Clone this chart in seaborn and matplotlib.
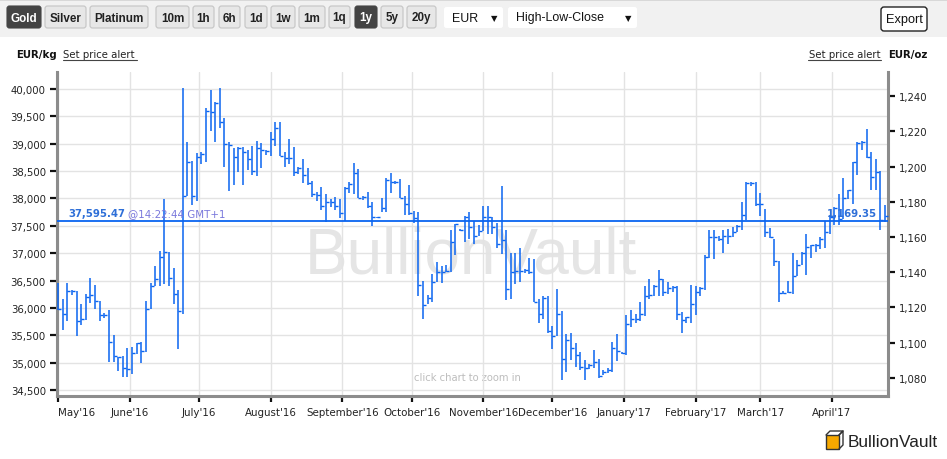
import numpy as np
import pandas as pd
import matplotlib
matplotlib.use("Agg")
import matplotlib.pyplot as plt
from matplotlib.patches import FancyBboxPatch, Rectangle
from matplotlib.ticker import FuncFormatter
import seaborn as sns

# --- data: 2-day high/low/close bars, EUR per kg ---
start_date = "2016-05-01"
high = [36456, 36166, 36456, 36330, 36311, 36076, 36257, 36547, 36420, 36130,
        35913, 35955, 35502, 35110, 35122, 35261, 35279, 35363, 35369, 36118,
        36456, 36758, 37042, 37993, 37012, 36728, 36330, 40012, 39027, 38692,
        38832, 38844, 39647, 39982, 39769, 40012, 39465, 39027, 38923, 38935,
        38948, 38887, 38966, 39045, 39009, 38887, 39209, 39392, 39392, 38856,
        39088, 38935, 38571, 38723, 38552, 38315, 38114, 38210, 38089, 37998,
        38028, 37986, 38210, 38301, 38653, 38544, 38046, 38119, 37937, 37664,
        38010, 38380, 38471, 38313, 38362, 38046, 38253, 37773, 37755, 36492,
        36237, 36620, 36833, 36772, 36784, 37421, 37530, 37439, 37676, 37743,
        37585, 37512, 37864, 37858, 37664, 37543, 38222, 37421, 36996, 36996,
        37087, 36705, 36906, 36893, 36164, 36213, 36213, 35678, 36346, 35939,
        35525, 35537, 35361, 35191, 35039, 34978, 35222, 35070, 34857, 34899,
        35374, 35525, 35203, 35872, 35963, 35890, 36103, 36395, 36529, 36419,
        36699, 36529, 36468, 36395, 36407, 35933, 35842, 36419, 36407, 36377,
        36966, 37422, 37422, 37319, 37422, 37441, 37471, 37520, 37939, 38304,
        38292, 38292, 38097, 37805, 37453, 37258, 36863, 36316, 36486, 37003,
        36881, 37012, 37358, 37146, 37176, 37298, 37583, 37693, 37845, 38088,
        38374, 38161, 38666, 39030, 39043, 39274, 38848, 38726, 38495, 37887]
low = [35967, 35593, 35756, 36227, 35484, 35683, 35774, 36094, 35973, 35756,
       35822, 35019, 35019, 34850, 34735, 34735, 34795, 35158, 34989, 35188,
       35973, 36396, 36408, 36438, 36408, 36064, 35248, 35882, 38040, 37871,
       37962, 38631, 38662, 39240, 39027, 39282, 38583, 38133, 38254, 38479,
       38248, 38528, 38431, 38418, 38558, 38796, 38783, 38966, 38771, 38571,
       38631, 38418, 38449, 38279, 38248, 38023, 37944, 37785, 37573, 37846,
       37785, 37634, 37591, 38107, 38089, 38016, 37967, 37834, 37500, 37634,
       37755, 37755, 38107, 38271, 38016, 37694, 37694, 37555, 36225, 35800,
       36073, 36116, 36468, 36450, 36650, 36662, 36966, 37409, 37197, 37257,
       37166, 37312, 37403, 37342, 37342, 37087, 36981, 36146, 36164, 36431,
       36480, 36644, 36620, 36103, 35726, 35800, 35544, 35240, 35495, 34674,
       34826, 35039, 34917, 34857, 34674, 34887, 34905, 34717, 34765, 34814,
       34826, 35021, 35161, 35148, 35647, 35720, 35769, 35860, 36164, 36225,
       36225, 36213, 36255, 36298, 35787, 35538, 35726, 35726, 35872, 36213,
       36334, 36906, 36893, 37228, 37003, 37167, 37289, 37380, 37428, 37611,
       38219, 37866, 37684, 37289, 37270, 36760, 36115, 36255, 36267, 36255,
       36590, 36781, 36598, 36915, 37024, 37085, 37097, 37358, 37510, 37510,
       37632, 37997, 37906, 38422, 38878, 38739, 38149, 38149, 37419, 37571]
close = [35973, 35889, 36317, 36317, 35762, 35804, 36197, 36233, 36118, 35870,
         35870, 35381, 35122, 35097, 34898, 34880, 35182, 35351, 35218, 35985,
         36396, 36529, 36921, 37012, 36547, 36257, 35943, 38041, 38674, 38050,
         38753, 38814, 39592, 39574, 39745, 39392, 38996, 38984, 38753, 38923,
         38844, 38723, 38504, 38917, 38893, 38862, 39088, 39288, 38771, 38741,
         38741, 38479, 38558, 38437, 38279, 38084, 38066, 37864, 37937, 37937,
         37858, 37737, 38192, 38271, 38471, 38016, 38028, 37864, 37652, 37652,
         37816, 38332, 38301, 38301, 38016, 37907, 37725, 37634, 36420, 36055,
         36189, 36480, 36650, 36662, 36674, 37209, 37524, 37421, 37664, 37482,
         37318, 37403, 37664, 37664, 37482, 37166, 37239, 36346, 36662, 36674,
         36680, 36692, 36650, 36103, 35890, 36176, 35574, 35495, 35890, 35070,
         35422, 35264, 35130, 34917, 34905, 34948, 35009, 34747, 34826, 34857,
         35270, 35209, 35179, 35708, 35799, 35799, 35890, 36212, 36237, 36407,
         36529, 36286, 36358, 36377, 35890, 35787, 35830, 36073, 36286, 36365,
         36924, 37289, 37301, 37258, 37319, 37319, 37380, 37501, 37696, 38280,
         38274, 37897, 37897, 37380, 37289, 36863, 36267, 36267, 36286, 36590,
         36784, 36994, 37115, 37146, 37158, 37267, 37389, 37662, 37827, 37632,
         38009, 38149, 38666, 39018, 39030, 38757, 38392, 38483, 37602, 37681]
last_price = 37595.47
last_price_oz = 1169.35
last_time = "@14:22:44 GMT+1"
kg_per_oz = 32.1507

dates = pd.date_range(start_date, periods=len(close), freq="2D")
df = pd.DataFrame({"date": dates, "high": high, "low": low, "close": close})

left_ticks = np.arange(34500, 40001, 500)
right_ticks = np.arange(1080, 1241, 20)
month_ticks = pd.date_range("2016-05-01", "2017-04-01", freq="MS")
month_labels = [d.strftime("%B'%y") for d in month_ticks]

W, H = 947, 460
BLUE = "#0a64f0"

sns.set_style("white")
plt.rcParams["font.family"] = ["DejaVu Sans"]

fig = plt.figure(figsize=(W / 100, H / 100), dpi=100, facecolor="white")

# background layer in pixel coordinates (toolbar, labels, watermark)
bg = fig.add_axes([0, 0, 1, 1], zorder=0)
bg.set_xlim(0, W)
bg.set_ylim(H, 0)
bg.axis("off")

bg.add_patch(Rectangle((0, 0), W, 38, fc="#f1f1f1", ec="none"))
bg.add_patch(Rectangle((0, 0), W, 1.5, fc="#d8d8d8", ec="none"))


def button(x0, x1, label, dark=False, y0=7, y1=29):
    fc = "#444444" if dark else "#e7e7e7"
    ec = "#444444" if dark else "#c4c4c4"
    bg.add_patch(FancyBboxPatch((x0, y0), x1 - x0, y1 - y0,
                                boxstyle="round,pad=0,rounding_size=2.5",
                                fc=fc, ec=ec, lw=0.8))
    bg.text((x0 + x1) / 2, (y0 + y1) / 2 + 0.5, label, ha="center", va="center",
            fontsize=8.4, weight="bold", family="Liberation Sans",
            color="white" if dark else "#222222")


for x0, x1, lab, dk in [(7, 41, "Gold", True), (45, 86, "Silver", False),
                        (90, 148, "Platinum", False), (156, 189, "10m", False),
                        (193, 214, "1h", False), (219, 240, "6h", False),
                        (245, 267, "1d", False), (271, 295, "1w", False),
                        (299, 325, "1m", False), (329, 350, "1q", False),
                        (355, 377, "1y", True), (381, 403, "5y", False),
                        (407, 436, "20y", False)]:
    button(x0, x1, lab, dk)

# dropdowns
for x0, x1, lab in [(444, 503, "EUR"), (508, 637, "High-Low-Close")]:
    bg.add_patch(FancyBboxPatch((x0, 8), x1 - x0, 21,
                                boxstyle="round,pad=0,rounding_size=2.5",
                                fc="white", ec="none"))
    bg.text(x0 + 8, 18.5, lab, ha="left", va="center", fontsize=8.9,
            family="Liberation Sans", color="#111111")
    bg.text(x1 - 9, 18.5, "\u25bc", ha="center", va="center", fontsize=6,
            color="#111111")

# export button
bg.add_patch(FancyBboxPatch((881, 8), 46, 24,
                            boxstyle="round,pad=0,rounding_size=3",
                            fc="white", ec="#222222", lw=1.0))
bg.text(904, 20.5, "Export", ha="center", va="center", fontsize=9.2,
        family="Liberation Sans", color="#111111")

# unit labels and price alert links
bg.text(16, 55, "EUR/kg", ha="left", va="center", fontsize=7.3,
        weight="bold", color="#111111")
bg.text(63, 55, "Set price alert", ha="left", va="center", fontsize=7.3,
        color="#222222")
bg.plot([63, 137], [61, 61], color="#444444", lw=0.8)
bg.text(881, 55, "Set price alert", ha="right", va="center", fontsize=7.3,
        color="#222222")
bg.plot([808, 881], [61, 61], color="#444444", lw=0.8)
bg.text(888, 55, "EUR/oz", ha="left", va="center", fontsize=7.3,
        weight="bold", color="#111111")

# watermark and hint
bg.text(471, 257, "BullionVault", ha="center", va="center", fontsize=46,
        family="Liberation Sans", color="#e5e5e5")
bg.text(467, 378, "click chart to zoom in", ha="center", va="center",
        fontsize=7.2, color="#bdbdbd")

# logo bottom right
bg.add_patch(Rectangle((826, 436), 13, 14, fc="#f6a800", ec="#333333", lw=1.0))
bg.plot([826, 830, 843, 839], [436, 432, 432, 436], color="#333333", lw=1.0)
bg.plot([839, 843, 843, 839], [450, 446, 432, 436], color="#333333", lw=1.0)
bg.text(848, 443, "BullionVault", ha="left", va="center", fontsize=12.4,
        family="Liberation Sans", color="#222222")

# --- main chart ---
ax = fig.add_axes([57 / W, 1 - 397 / H, (888 - 57) / W, (397 - 73) / H], zorder=1)
ax.set_facecolor("none")

ax.vlines(df["date"], df["low"], df["high"], color=BLUE, lw=1.1, zorder=3)
sns.scatterplot(data=df, x="date", y="close", marker=1, s=3.5, linewidth=1.0,
                color=BLUE, ax=ax, zorder=4, legend=False)
ax.axhline(last_price, color=BLUE, lw=1.3, zorder=5)

ax.set_xlim(pd.Timestamp("2016-04-30 12:00"), pd.Timestamp("2017-04-25 07:00"))
ax.set_ylim(34390, 40310)

ax.set_yticks(left_ticks)
ax.yaxis.set_major_formatter(FuncFormatter(lambda v, p: f"{v:,.0f}"))
ax.set_xticks(month_ticks)
ax.set_xticklabels(month_labels)
ax.get_xticklabels()[0].set_horizontalalignment("left")

ax.grid(True, color="#e3e3e3", lw=1.0)
ax.set_axisbelow(True)
ax.set_xlabel("")
ax.set_ylabel("")

for side in ["left", "bottom", "right"]:
    ax.spines[side].set_visible(True)
    ax.spines[side].set_color("#8c8c8c")
    ax.spines[side].set_linewidth(2.2)
ax.spines["top"].set_visible(False)

ax.tick_params(axis="y", which="major", length=5, width=1.6, color="#111111",
               labelsize=7.3, labelcolor="#222222", pad=3, left=True)
ax.tick_params(axis="x", which="major", length=4, width=1.6, color="#111111",
               labelsize=7.4, labelcolor="#222222", pad=4, bottom=True)

sec = ax.secondary_yaxis("right", functions=(lambda v: v / kg_per_oz,
                                             lambda v: v * kg_per_oz))
sec.set_yticks(right_ticks)
sec.yaxis.set_major_formatter(FuncFormatter(lambda v, p: f"{v:,.0f}"))
sec.tick_params(axis="y", length=5, width=1.6, color="#111111", labelsize=7.3,
                labelcolor="#222222", pad=3)
sec.spines["right"].set_visible(False)

# last price labels (drawn over the chart)
ov = fig.add_axes([0, 0, 1, 1], zorder=2)
ov.set_xlim(0, W)
ov.set_ylim(H, 0)
ov.axis("off")
ov.text(68, 214, f"{last_price:,.2f}", ha="left", va="center", fontsize=7.3,
        weight="bold", color="#2e6fd8")
ov.text(128, 214, last_time, ha="left", va="center", fontsize=7.4,
        color="#7a78dc")
ov.text(877, 214, f"{last_price_oz:,.2f}", ha="right", va="center", fontsize=7.3,
        weight="bold", color="#2e6fd8")

fig.savefig("out.png", dpi=100, facecolor="white")
